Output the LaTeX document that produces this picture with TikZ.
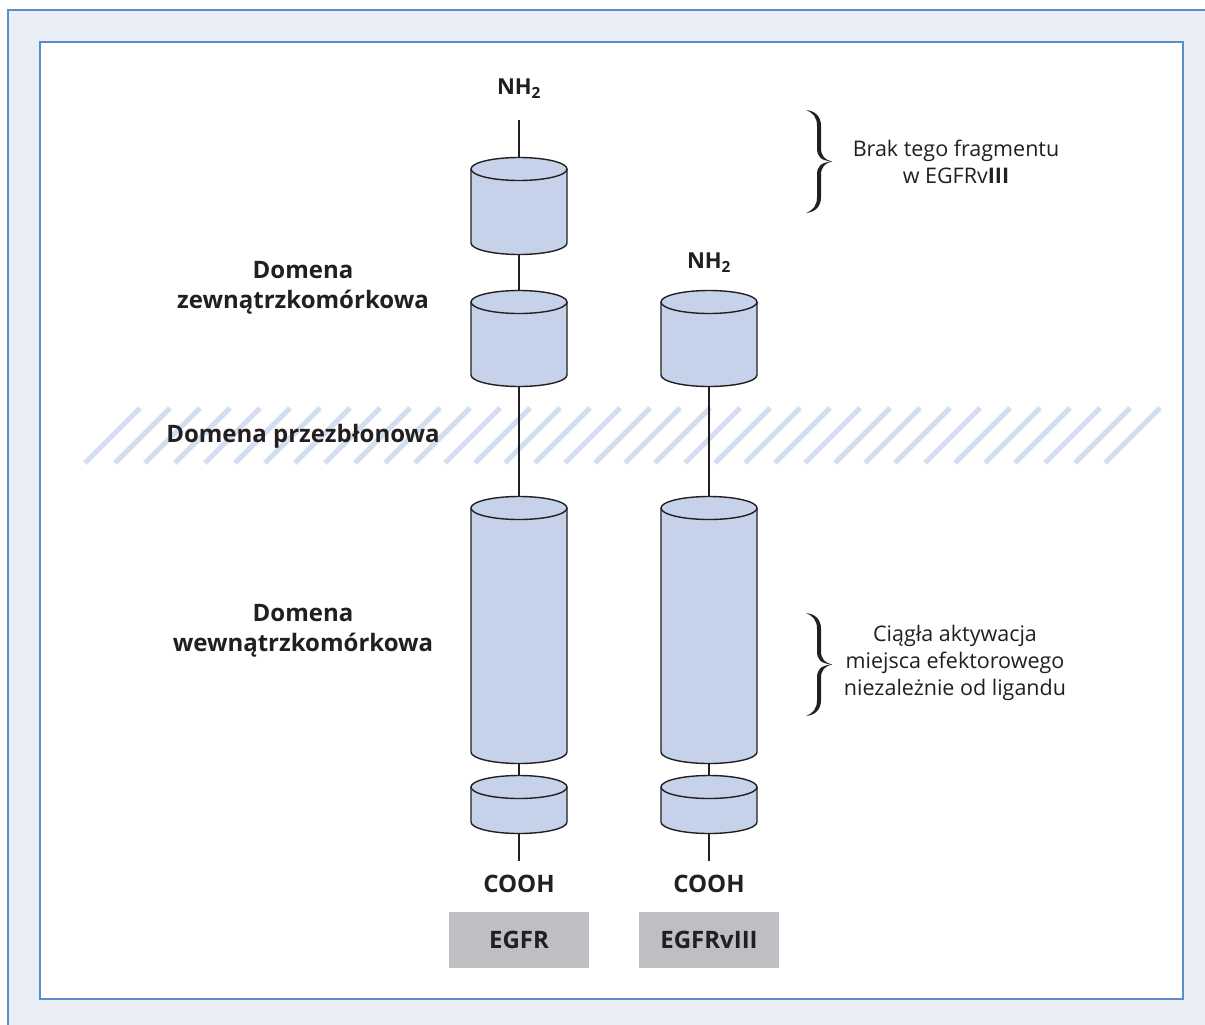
\documentclass[tikz,border=0pt]{standalone}
\usepackage{fontspec}
\setmainfont{Open Sans}
\usepackage{tikz}
\definecolor{framebg}{HTML}{EAEFF7}
\definecolor{frameline}{HTML}{5B8DCB}
\definecolor{cylfill}{HTML}{C5D2E9}
\definecolor{hatchblue}{HTML}{D3DFEF}
\definecolor{tagfill}{HTML}{BEBFC3}
\definecolor{ink}{HTML}{231F20}

\tikzset{
  pics/domain/.style={code={
    \fill[cylfill] (-48,0) -- (-48,-#1) arc[start angle=180,end angle=360,x radius=48,y radius=11.5] -- (48,0) -- cycle;
    \draw[ink,line width=1.4pt] (-48,0) -- (-48,-#1) arc[start angle=180,end angle=360,x radius=48,y radius=11.5] -- (48,0);
    \draw[ink,line width=1.4pt,fill=cylfill] (0,0) ellipse [x radius=48,y radius=11.5];
    \coordinate (-top) at (0,11.5);
    \coordinate (-bot) at (0,-#1-11.5);
  }},
  pics/curly/.style={code={
    \fill[ink] (0,0) .. controls (9,-1) and (15,-6) .. (15,-16) -- (15,-38)
      .. controls (15,-46) and (19,-50) .. (26,-51.5)
      .. controls (19,-53) and (15,-57) .. (15,-65) -- (15,-87)
      .. controls (15,-97) and (9,-102) .. (0,-103)
      .. controls (7,-100) and (11,-96) .. (11,-87) -- (11,-65)
      .. controls (11,-56) and (15,-52.5) .. (26,-51.5)
      .. controls (15,-50.5) and (11,-47) .. (11,-38) -- (11,-16)
      .. controls (11,-7) and (7,-3) .. (0,0) -- cycle;
  }},
  stem/.style={ink,line width=1.2pt},
  lbl/.style={text=ink,font=\bfseries\fontsize{24}{30}\selectfont,align=center,inner sep=0pt},
  end/.style={lbl,font=\bfseries\fontsize{22}{26}\selectfont},
  note/.style={text=ink,font=\fontsize{21.5}{27}\selectfont,align=center,inner sep=0pt},
  tag/.style={fill=tagfill,text=ink,font=\bfseries\fontsize{24}{26}\selectfont,minimum width=140pt,minimum height=56pt,inner sep=0pt}
}

\begin{document}
\begin{tikzpicture}[x=1pt,y=1pt]
\useasboundingbox (0,0) rectangle (1205,-1025);
% frame
\draw[frameline,fill=framebg,line width=1.5pt] (8,-10) rectangle (1220,-1040);
\draw[frameline,fill=white,line width=1.5pt] (40,-42) rectangle (1183,-999);
% membrane
\foreach \k in {0,...,34}
  \draw[hatchblue,line width=5pt] (85+30*\k,-463) -- (140+30*\k,-408);
% EGFR
\coordinate (nt1) at (519,-120);
\coordinate (ce1) at (519,-861);
\draw[stem] (nt1) -- (519,-158);
\pic (ex1) at (519,-169) {domain=74};
\pic (ex2) at (519,-302) {domain=73};
\draw[stem] (ex1-bot) -- (ex2-top);
\pic (in1) at (519,-508) {domain=244};
\draw[stem] (ex2-bot) -- (in1-top);
\pic (ct1) at (519,-787) {domain=35};
\draw[stem] (in1-bot) -- (ct1-top);
\draw[stem] (ct1-bot) -- (ce1);
% EGFRvIII
\coordinate (ce2) at (709,-861);
\pic (ex3) at (709,-302) {domain=73};
\pic (in2) at (709,-508) {domain=244};
\draw[stem] (ex3-bot) -- (in2-top);
\pic (ct2) at (709,-787) {domain=35};
\draw[stem] (in2-bot) -- (ct2-top);
\draw[stem] (ct2-bot) -- (ce2);
% labels
\node[end] (nh1) at (519,-89) {NH\textsubscript{2}};
\node[end] (nh2) at (709,-263) {NH\textsubscript{2}};
\node[lbl] (co1) at (519,-884) {COOH};
\node[lbl] (co2) at (709,-884) {COOH};
\node[tag] (egfr) at (519,-940) {EGFR};
\node[tag] (egfrv) at (709,-940) {EGFRv\textbf{III}};
\node[lbl] (zew) at (303,-288) {Domena\\zewnątrzkomórkowa};
\node[lbl] (prz) at (303,-436) {Domena przezbłonowa};
\node[lbl] (wew) at (303,-631) {Domena\\wewnątrzkomórkowa};
% braces
\pic (br1) at (806,-110) {curly};
\pic (br2) at (806,-613) {curly};
\node[note] (brak) at (956,-162) {Brak tego fragmentu\\w EGFRv\textbf{III}};
\node[note] (ciag) at (955,-663) {Ciągła aktywacja\\miejsca efektorowego\\niezależnie od ligandu};
\end{tikzpicture}
\end{document}
